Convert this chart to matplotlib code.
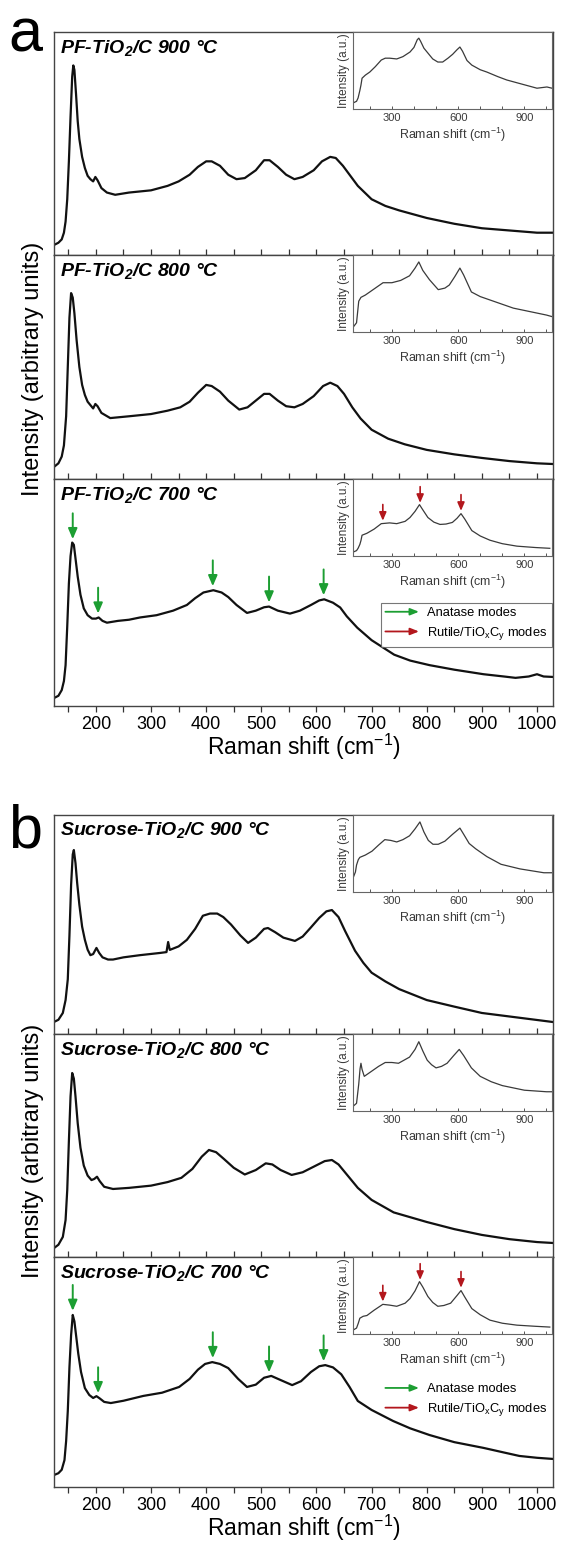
import numpy as np
import matplotlib
matplotlib.use("Agg")
import matplotlib.pyplot as plt
from matplotlib.lines import Line2D
from matplotlib.patches import FancyArrowPatch
from matplotlib.legend_handler import HandlerBase
from matplotlib.ticker import MultipleLocator

plt.rcParams['font.family'] = ['Liberation Sans', 'DejaVu Sans']
plt.rcParams['mathtext.fontset'] = 'custom'
plt.rcParams['mathtext.rm'] = 'Liberation Sans'
plt.rcParams['mathtext.it'] = 'Liberation Sans:italic'
plt.rcParams['mathtext.bf'] = 'Liberation Sans:bold'
plt.rcParams['mathtext.default'] = 'regular'

# ---------------- data (main spectra, arbitrary units 0-100) ----------------
a900_x = [124, 132, 138, 142, 145, 148, 151, 154, 157, 159, 161, 164, 167, 170, 175, 180, 185, 190, 195, 199, 203, 210, 220, 235, 260, 300, 330, 350, 370, 385, 400, 410, 425, 440, 455, 470, 490, 505, 515, 530, 545, 560, 575, 595, 610, 625, 635, 648, 660, 675, 700, 725, 750, 800, 850, 900, 950, 1000, 1028]
a900_y = [4.5, 5.5, 7, 10, 15, 25, 42, 62, 80, 85, 83, 72, 60, 52, 44, 39, 35.5, 34, 33, 35, 33.5, 30, 28, 27, 28, 29, 31, 33, 36, 39.5, 42, 42, 40, 36, 34, 34.5, 38, 42.5, 42.5, 39.5, 36, 34, 35, 38, 42, 44, 43.5, 40, 36, 31, 25, 22, 20, 16.6, 14, 12, 11, 10, 10]

a800_x = [124, 132, 138, 142, 146, 149, 152, 155, 158, 161, 165, 170, 175, 180, 185, 190, 195, 199, 203, 210, 226, 260, 300, 330, 353, 370, 385, 400, 410, 425, 440, 460, 475, 490, 505, 515, 530, 545, 560, 575, 595, 612, 625, 638, 650, 665, 680, 700, 730, 760, 800, 850, 900, 950, 1000, 1028]
a800_y = [5.4, 7, 10, 15, 28, 50, 72, 83, 81, 74, 62, 50, 42, 37.5, 34.5, 33, 31.5, 33.5, 32.5, 29.5, 27.2, 28, 29, 30.5, 32, 34.5, 38.5, 42, 41.5, 39, 35, 31, 32, 35, 38, 38, 35, 32.5, 32, 33.5, 37, 41.5, 43, 41.5, 38, 32, 27, 22, 18, 15.5, 13, 11, 9.4, 8, 7, 6.7]

a700_x = [124, 132, 138, 142, 145, 148, 151, 154, 157, 160, 163, 167, 172, 178, 185, 193, 200, 205, 212, 220, 240, 260, 280, 310, 340, 365, 380, 395, 413, 428, 440, 455, 474, 490, 505, 514, 530, 552, 570, 590, 605, 614, 630, 643, 655, 674, 700, 741, 770, 805, 850, 903, 940, 961, 985, 1000, 1012, 1029]
a700_y = [3.5, 4.5, 7, 11, 18, 35, 54, 66, 72, 71, 65, 57, 49, 43, 40, 38.5, 38.5, 39, 37.5, 36.7, 37.5, 38, 39, 40, 42, 44.5, 47.5, 50, 51, 50, 48, 44.5, 41, 42, 43.5, 43.8, 42, 40.7, 42, 44.5, 46.5, 47, 45.5, 43.4, 39.5, 34.5, 29, 22.6, 20, 18, 16, 14, 13, 12.4, 13, 14, 13, 12.8]

b900_x = [124, 132, 140, 145, 149, 152, 155, 158, 160, 163, 166, 170, 175, 180, 185, 190, 195, 201, 206, 212, 222, 231, 250, 280, 316, 328, 331, 334, 350, 365, 380, 394, 407, 420, 431, 445, 462, 476, 490, 505, 512, 525, 540, 561, 575, 589, 605, 618, 628, 640, 652, 670, 685, 700, 725, 750, 800, 850, 900, 950, 1000, 1028]
b900_y = [5.5, 6.5, 9.6, 15.5, 25, 45, 68, 82, 84, 78, 69, 59, 49, 43, 38.5, 36, 36.5, 39.3, 37, 35, 34, 34, 35, 36, 37, 37.4, 42, 38.4, 40, 43, 48, 54, 55, 55, 53.4, 50, 45, 41.6, 44, 48, 48.4, 46.5, 44, 42.5, 44.5, 48.4, 53, 56, 56.6, 53.4, 47, 38, 32.5, 28, 24, 20.5, 15.5, 12.5, 9.6, 8, 6.4, 5.5]

b800_x = [124, 132, 140, 145, 148, 151, 154, 157, 160, 163, 167, 172, 178, 185, 192, 197, 202, 207, 215, 231, 260, 300, 330, 355, 375, 392, 405, 418, 432, 450, 470, 490, 508, 520, 535, 555, 575, 595, 615, 628, 640, 655, 675, 700, 740, 800, 850, 900, 950, 1000, 1028]
b800_y = [4, 5.5, 9, 16.6, 30, 52, 72, 82.5, 80, 72, 60, 49, 41, 36.5, 34.5, 35, 36, 34, 31.5, 30.5, 31, 32, 33.6, 35.5, 39.5, 45, 48, 47, 44, 40, 37, 39, 42, 41.5, 39, 36.8, 38, 40.5, 43, 43.5, 41.5, 37, 31, 25.6, 20, 15.7, 12.5, 9.9, 8, 6.7, 6.3]

b700_x = [124, 132, 138, 143, 146, 149, 152, 155, 158, 161, 164, 168, 173, 180, 188, 195, 201, 207, 215, 227, 250, 286, 320, 351, 370, 385, 398, 411, 425, 440, 458, 474, 490, 505, 518, 535, 556, 572, 590, 605, 616, 630, 645, 660, 675, 700, 739, 770, 805, 850, 903, 940, 968, 1000, 1029]
b700_y = [5.2, 6, 7.5, 11.7, 20, 33, 52, 66, 74.8, 72, 66, 58, 50, 43, 40, 38.7, 39.5, 38.5, 37, 36.5, 37.5, 39.6, 41, 43.5, 47, 51, 53.5, 54.3, 53.5, 51.7, 47, 43.5, 44.5, 47.5, 48.3, 46.5, 44.3, 46, 50, 52.5, 53, 52, 49, 43.5, 37.4, 33.5, 28.7, 25.5, 22.6, 19.5, 17, 15, 13.5, 12.7, 12.2]

# ---------------- data (inset spectra) ----------------
ia900_x = [124, 140, 147, 155, 160, 165, 180, 200, 225, 252, 270, 290, 322, 350, 382, 400, 415, 422, 430, 445, 463, 485, 508, 530, 554, 575, 595, 608, 620, 640, 662, 700, 730, 780, 820, 880, 957, 1002, 1025]
ia900_y = [7.8, 10, 14.3, 24, 31, 40, 44, 48, 55, 63.6, 66, 66, 65, 68, 74, 80, 90, 92, 88, 79, 72.7, 65, 61, 61, 66, 71, 77, 80.5, 75, 63, 57, 51, 48, 42, 37.7, 33, 27, 28.6, 27]

ia800_x = [124, 140, 150, 160, 180, 200, 230, 260, 300, 340, 380, 405, 422, 440, 470, 510, 540, 560, 585, 608, 625, 660, 700, 740, 800, 850, 950, 1000, 1025]
ia800_y = [6, 12, 40, 45, 48, 52, 58, 64, 64, 67, 73, 83, 91, 80, 68, 55, 57, 61, 72, 83, 74, 52, 46, 42, 36, 31, 25, 22, 20]

ia700_x = [124, 140, 147, 155, 160, 165, 187, 220, 252, 290, 322, 360, 382, 405, 425, 440, 463, 490, 518, 545, 574, 595, 613, 630, 662, 700, 744, 800, 866, 950, 1015]
ia700_y = [5, 7, 10, 15, 20, 27, 29.5, 35, 42, 43, 42, 45, 50, 58, 66.7, 60, 50, 44, 41, 41.5, 43.6, 49, 55, 48, 33, 26, 20.5, 16, 12.8, 11, 10]

ib900_x = [124, 135, 140, 148, 155, 180, 210, 240, 268, 295, 322, 350, 380, 405, 427, 445, 465, 486, 510, 540, 575, 608, 625, 650, 680, 730, 794, 880, 988, 1025]
ib900_y = [18, 26, 35, 42, 45, 48, 53, 61, 68, 67, 65, 68, 73, 82, 91, 78, 67, 62, 62, 66, 75, 83, 75, 63, 56, 46, 36, 30, 25, 25]

ib800_x = [124, 140, 150, 156, 160, 165, 175, 210, 240, 270, 300, 330, 380, 405, 422, 440, 460, 480, 500, 525, 550, 580, 605, 625, 660, 700, 750, 800, 900, 1000, 1025]
ib800_y = [6, 10, 35, 55, 62, 54, 45, 52, 58, 63, 63, 62, 70, 80, 90, 78, 66, 60, 56, 58, 62, 72, 80, 72, 56, 45, 38, 33, 27, 25, 25]

ib700_x = [124, 140, 148, 155, 170, 187, 220, 259, 290, 322, 360, 382, 405, 425, 440, 463, 485, 508, 535, 566, 595, 613, 630, 662, 700, 744, 800, 866, 950, 1015]
ib700_y = [5, 7.7, 14, 20.5, 23, 24, 31, 38.5, 37.5, 36, 40, 46, 56, 68, 61, 48.7, 41, 36, 37, 40, 50, 56.4, 48, 33, 25, 18, 14, 11.5, 10, 9]

titles_a = ['PF-TiO$_2$/C 900 °C', 'PF-TiO$_2$/C 800 °C', 'PF-TiO$_2$/C 700 °C']
titles_b = ['Sucrose-TiO$_2$/C 900 °C', 'Sucrose-TiO$_2$/C 800 °C', 'Sucrose-TiO$_2$/C 700 °C']
anatase_x = [158, 204, 412, 514, 613]
rutile_x = [259, 428, 613]
legend_labels = ['Anatase modes', 'Rutile/TiO$_x$C$_y$ modes']
main_xticks = [200, 300, 400, 500, 600, 700, 800, 900, 1000]
inset_xticks = [300, 600, 900]

GREEN = '#1c9e32'
RED = '#b3171d'
INK = '#111111'
GRAY = '#3a3a3a'

W, H = 561, 1541
fig = plt.figure(figsize=(W / 100, H / 100), dpi=100)

L_PX, R_PX = 54, 553
IN_L = 353
IN_H = 77


def ax_rect(top, bot, left=L_PX, right=R_PX):
    return [left / W, 1 - bot / H, (right - left) / W, (bot - top) / H]


class HandlerArrow(HandlerBase):
    def create_artists(self, legend, orig_handle, xdescent, ydescent,
                       width, height, fontsize, trans):
        y = height / 2 - ydescent
        a = FancyArrowPatch((-xdescent, y), (width - xdescent, y),
                            arrowstyle='-|>,head_length=0.55,head_width=0.22',
                            mutation_scale=fontsize, color=orig_handle.get_color(),
                            lw=1.3, shrinkA=0, shrinkB=0, transform=trans)
        return [a]


def add_arrows(ax, xs, sx, sy, color, length, gap, lw, ms):
    for xv in xs:
        yv = np.interp(xv, sx, sy)
        ax.annotate('', xy=(xv, yv), xytext=(0, length), textcoords='offset pixels',
                    arrowprops=dict(arrowstyle='-|>,head_length=0.7,head_width=0.3',
                                    color=color, lw=lw, shrinkA=0, shrinkB=gap,
                                    mutation_scale=ms))


def make_panel(tops, bots, spectra, insets, titles, framed_legend, letter, letter_y):
    axes = []
    for i in range(3):
        ax = fig.add_axes(ax_rect(tops[i], bots[i]))
        sx, sy = spectra[i]
        ax.plot(sx, sy, color=INK, lw=1.6, solid_joinstyle='round')
        ax.set_xlim(124, 1029)
        ax.set_ylim(0, 100)
        ax.set_yticks([])
        ax.xaxis.set_major_locator(MultipleLocator(100))
        ax.xaxis.set_minor_locator(MultipleLocator(50))
        last = (i == 2)
        ax.tick_params(axis='x', which='both', direction='out' if last else 'in',
                       length=4, width=0.9, color='#333333',
                       labelbottom=last, labelsize=13, pad=3)
        for sp in ax.spines.values():
            sp.set_color('#444444')
            sp.set_linewidth(1.0)
        if last:
            ax.set_xticks(main_xticks)
            ax.set_xticklabels([str(t) for t in main_xticks])
            ax.set_xlabel('Raman shift (cm$^{-1}$)', fontsize=16.5, labelpad=-1)
        ax.text(0.012, 0.975, titles[i], transform=ax.transAxes, ha='left', va='top',
                fontsize=14, fontweight='bold', fontstyle='italic')
        # inset
        iax = fig.add_axes(ax_rect(tops[i], tops[i] + IN_H, IN_L, R_PX - 1))
        ix, iy = insets[i]
        iax.plot(ix, iy, color=GRAY, lw=0.9, solid_joinstyle='round')
        iax.set_xlim(124, 1025)
        iax.set_ylim(0, 100)
        iax.set_yticks([])
        iax.set_xticks(inset_xticks)
        iax.xaxis.set_minor_locator(MultipleLocator(100))
        iax.tick_params(axis='x', which='both', direction='in', length=2.5, width=0.7,
                        color='#555555', labelsize=8, labelcolor=GRAY, pad=3)
        for sp in iax.spines.values():
            sp.set_color('#666666')
            sp.set_linewidth(0.8)
        iax.set_xlabel('Raman shift (cm$^{-1}$)', fontsize=9, color=GRAY, labelpad=2)
        iax.set_ylabel('Intensity (a.u.)', fontsize=8.5, color=GRAY, labelpad=2)
        if last:
            add_arrows(ax, anatase_x, sx, sy, GREEN, 30, 3, 1.4, 9)
            add_arrows(iax, rutile_x, ix, iy, RED, 19, 2, 1.2, 7)
            h1 = Line2D([], [], color=GREEN)
            h2 = Line2D([], [], color=RED)
            leg = ax.legend([h1, h2], legend_labels,
                            handler_map={h1: HandlerArrow(), h2: HandlerArrow()},
                            loc='upper right',
                            bbox_to_anchor=(0.997, 0.455 if framed_legend else 0.47),
                            fontsize=9.3, frameon=framed_legend, fancybox=False,
                            handlelength=2.6, handletextpad=0.6, labelspacing=0.45,
                            borderpad=0.35, borderaxespad=0.0)
            if framed_legend:
                leg.get_frame().set_edgecolor('#555555')
                leg.get_frame().set_linewidth(0.8)
        axes.append(ax)
    ymid = 1 - (tops[0] + bots[2]) / 2 / H
    fig.text(33 / W, ymid, 'Intensity (arbitrary units)', rotation=90,
             ha='center', va='center', fontsize=17)
    fig.text(8 / W, 1 - letter_y / H, letter, fontsize=44, ha='left', va='baseline')
    return axes


make_panel([32, 255, 479], [255, 479, 706],
           [(a900_x, a900_y), (a800_x, a800_y), (a700_x, a700_y)],
           [(ia900_x, ia900_y), (ia800_x, ia800_y), (ia700_x, ia700_y)],
           titles_a, True, 'a', 52)
make_panel([815, 1034, 1257], [1034, 1257, 1487],
           [(b900_x, b900_y), (b800_x, b800_y), (b700_x, b700_y)],
           [(ib900_x, ib900_y), (ib800_x, ib800_y), (ib700_x, ib700_y)],
           titles_b, False, 'b', 848)

fig.savefig('out.png', dpi=100)
